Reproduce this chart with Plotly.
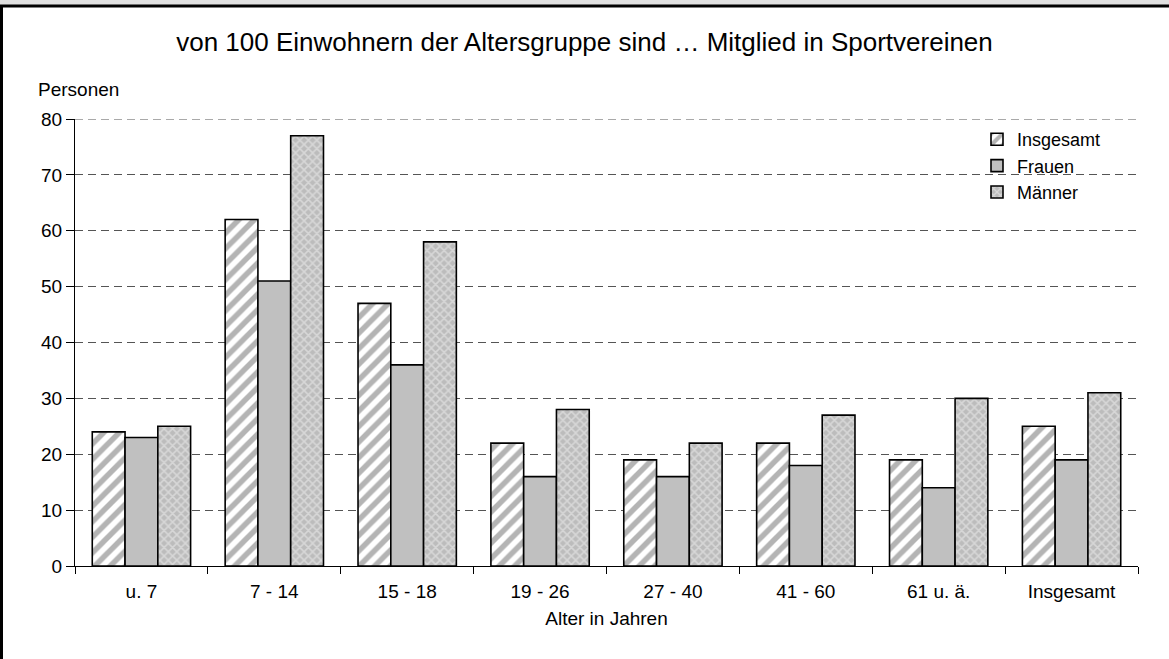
import plotly.graph_objects as go

categories = ["u. 7", "7 - 14", "15 - 18", "19 - 26", "27 - 40", "41 - 60", "61 u. ä.", "Insgesamt"]
insgesamt = [24, 62, 47, 22, 19, 22, 19, 25]
frauen = [23, 51, 36, 16, 16, 18, 14, 19]
maenner = [25, 77, 58, 28, 22, 27, 30, 31]
y_ticks = [0, 10, 20, 30, 40, 50, 60, 70, 80]

W, H = 1169, 659
L, R, T, B = 75, 31, 119, 93
pw, ph = W - L - R, H - T - B

def px(x):
    return (x - L) / pw

def py(y):
    return (H - B - y) / ph

FONT = "Liberation Sans, Arial, sans-serif"
line = dict(color="black", width=1.6)

fig = go.Figure()
fig.add_trace(go.Bar(
    name="Insgesamt", x=categories, y=insgesamt,
    marker=dict(color="white", line=line,
                pattern=dict(shape="/", fgcolor="#6a6a6a", bgcolor="white", size=11, solidity=0.5)),
))
fig.add_trace(go.Bar(
    name="Frauen", x=categories, y=frauen,
    marker=dict(color="#c0c0c0", line=line),
))
fig.add_trace(go.Bar(
    name="Männer", x=categories, y=maenner,
    marker=dict(color="white", line=line,
                pattern=dict(shape="x", fgcolor="#f2f2f2", bgcolor="#bcbcbc", size=6, solidity=0.45)),
))

shapes = [
    dict(type="rect", xref="paper", yref="paper", x0=px(0), x1=px(W), y0=py(0), y1=py(5),
         fillcolor="#e0e0e0", line=dict(width=0), layer="above"),
    dict(type="line", xref="paper", yref="paper", x0=px(0), x1=px(W), y0=py(6), y1=py(6),
         line=dict(color="black", width=3), layer="above"),
    dict(type="line", xref="paper", yref="paper", x0=px(1.5), x1=px(1.5), y0=py(6), y1=py(H),
         line=dict(color="black", width=3), layer="above"),
    dict(type="line", xref="paper", yref="y", x0=0, x1=1, y0=y_ticks[-1], y1=y_ticks[-1],
         line=dict(color="#555555", width=1, dash="8px,5px"), layer="below"),
]

fig.update_layout(
    width=W, height=H,
    margin=dict(l=L, r=R, t=T, b=B, autoexpand=False),
    paper_bgcolor="white", plot_bgcolor="white",
    font=dict(family=FONT, color="black", size=19),
    barmode="group", bargap=0.26, bargroupgap=0,
    title=dict(text="von 100 Einwohnern der Altersgruppe sind … Mitglied in Sportvereinen",
               x=0.5, xanchor="center", y=1 - 42 / H, yanchor="middle",
               font=dict(size=26, family=FONT)),
    legend=dict(x=px(977), y=py(121), xanchor="left", yanchor="top",
                font=dict(size=18), bgcolor="rgba(0,0,0,0)", tracegroupgap=0,
                itemwidth=30),
    shapes=shapes,
    annotations=[
        dict(text="Personen", xref="paper", yref="paper", x=px(36), y=py(90),
             xanchor="left", yanchor="middle", showarrow=False, font=dict(size=19)),
    ],
)
fig.update_yaxes(
    range=[0, 80], tickvals=y_ticks, showgrid=True, gridcolor="#555555", griddash="8px,5px",
    gridwidth=1, showline=True, linecolor="black", linewidth=1, ticks="outside",
    ticklen=8, tickcolor="black", tickfont=dict(size=19), zeroline=False,
)
fig.update_xaxes(
    showline=True, linecolor="black", linewidth=1, ticks="outside", tickson="boundaries",
    ticklen=7, tickcolor="black", tickfont=dict(size=19), ticklabelstandoff=8,
    title=dict(text="Alter in Jahren", font=dict(size=19), standoff=10),
)

fig.write_html("out.html", config={"displayModeBar": False},
               post_script="document.body.style.margin='0';")
